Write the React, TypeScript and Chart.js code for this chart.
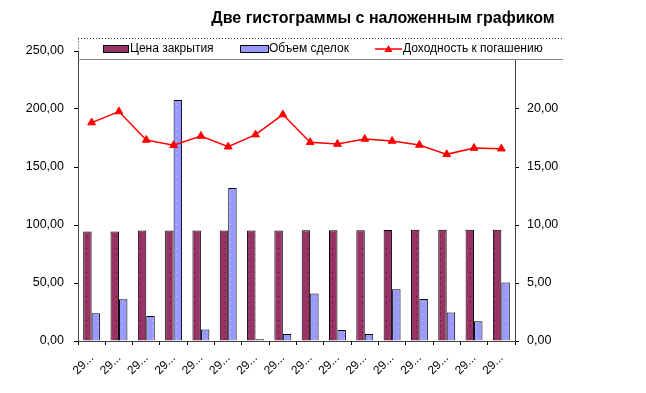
import React, { useEffect, useRef } from "react";
import { Chart, registerables } from "chart.js";

Chart.register(...registerables);

const categories = ["29...", "29...", "29...", "29...", "29...", "29...", "29...", "29...", "29...", "29...", "29...", "29...", "29...", "29...", "29...", "29..."];
const closePrice = [94.5, 94.5, 95.3, 95.3, 95.3, 95.3, 95.3, 95.3, 95.5, 95.5, 95.5, 95.7, 96, 96, 96, 96];
const volume = [24, 36, 21.6, 207.7, 10, 132, 1.5, 6, 41, 9.5, 6, 44.7, 36.3, 24.5, 17, 50.4];
const yieldToMaturity = [18.83, 19.78, 17.33, 16.87, 17.67, 16.75, 17.79, 19.52, 17.13, 16.98, 17.41, 17.24, 16.9, 16.09, 16.63, 16.58];
const leftTicks = [0, 50, 100, 150, 200, 250];
const rightTicks = [0, 5, 10, 15, 20];

const TITLE = "Две гистограммы с наложенным графиком";
const LEGEND = ["Цена закрытия", "Объем сделок", "Доходность к погашению"];
const FONT = "'Liberation Sans', Arial, sans-serif";

function makePattern(bg: string, dot: string) {
  const c = document.createElement("canvas");
  c.width = 6;
  c.height = 6;
  const g = c.getContext("2d")!;
  g.fillStyle = bg;
  g.fillRect(0, 0, 6, 6);
  g.fillStyle = dot;
  g.fillRect(2, 2, 1, 1);
  return g.createPattern(c, "repeat")!;
}

const overlayPlugin = {
  id: "overlay",
  afterDraw(chart: any) {
    const ctx = chart.ctx as CanvasRenderingContext2D;
    const area = chart.chartArea;
    ctx.save();
    // title
    ctx.fillStyle = "#000";
    ctx.font = `bold 16px ${FONT}`;
    ctx.textAlign = "center";
    ctx.textBaseline = "middle";
    ctx.fillText(TITLE, 383, 19);

    // legend box
    const lx = area.left;
    const ly = 38.5;
    const lr = 563;
    const lb = 59.5;
    ctx.fillStyle = "#fff";
    ctx.fillRect(lx + 1, ly, lr - lx - 1, lb - ly);
    ctx.strokeStyle = "#333";
    ctx.lineWidth = 1;
    ctx.setLineDash([1, 2]);
    ctx.beginPath();
    ctx.moveTo(lx, ly);
    ctx.lineTo(lr, ly);
    ctx.stroke();
    ctx.beginPath();
    ctx.moveTo(Math.round(lx) + 0.5, ly);
    ctx.lineTo(Math.round(lx) + 0.5, area.top);
    ctx.stroke();
    ctx.setLineDash([]);
    ctx.strokeStyle = "#888";
    ctx.beginPath();
    ctx.moveTo(lx, lb);
    ctx.lineTo(lr, lb);
    ctx.stroke();

    const cy = 49;
    ctx.font = `12px ${FONT}`;
    ctx.textAlign = "left";
    ctx.textBaseline = "middle";
    // item 1
    ctx.fillStyle = "#993366";
    ctx.fillRect(103, cy - 3, 25, 6);
    ctx.strokeStyle = "#000";
    ctx.strokeRect(103.5, cy - 3.5, 25, 7);
    ctx.fillStyle = "#000";
    ctx.fillText(LEGEND[0], 130, cy);
    // item 2
    ctx.fillStyle = "#9999FF";
    ctx.fillRect(240, cy - 3, 28, 6);
    ctx.strokeStyle = "#000";
    ctx.strokeRect(240.5, cy - 3.5, 28, 7);
    ctx.fillStyle = "#000";
    ctx.fillText(LEGEND[1], 269, cy);
    // item 3
    ctx.strokeStyle = "#FF0000";
    ctx.lineWidth = 1.5;
    ctx.beginPath();
    ctx.moveTo(375, cy);
    ctx.lineTo(402, cy);
    ctx.stroke();
    ctx.fillStyle = "#FF0000";
    ctx.beginPath();
    ctx.moveTo(388.5, cy - 4);
    ctx.lineTo(392.5, cy + 3);
    ctx.lineTo(384.5, cy + 3);
    ctx.closePath();
    ctx.fill();
    ctx.fillStyle = "#000";
    ctx.fillText(LEGEND[2], 403, cy);
    ctx.restore();
  },
};

export default function App() {
  const ref = useRef<HTMLCanvasElement | null>(null);

  useEffect(() => {
    document.body.style.margin = "0";
    const canvas = ref.current!;
    const maroon = makePattern("#993366", "#4a1433");
    const blue = makePattern("#9999FF", "#c8c8ff");
    const tickFont = { family: FONT, size: 12.5 };
    const chart = new Chart(canvas, {
      type: "bar",
      data: {
        labels: categories,
        datasets: [
          {
            type: "bar",
            label: LEGEND[0],
            data: closePrice,
            yAxisID: "y",
            backgroundColor: maroon,
            borderColor: "#000",
            borderWidth: 1,
            categoryPercentage: 0.62,
            barPercentage: 1,
            order: 2,
          },
          {
            type: "bar",
            label: LEGEND[1],
            data: volume,
            yAxisID: "y",
            backgroundColor: blue,
            borderColor: "#000",
            borderWidth: 1,
            categoryPercentage: 0.62,
            barPercentage: 1,
            order: 2,
          },
          {
            type: "line",
            label: LEGEND[2],
            data: yieldToMaturity,
            yAxisID: "y1",
            borderColor: "#FF0000",
            backgroundColor: "#FF0000",
            borderWidth: 1.5,
            pointStyle: "triangle",
            pointRadius: 4.5,
            pointBorderWidth: 1,
            tension: 0,
            order: 1,
          },
        ] as any,
      },
      options: {
        responsive: false,
        animation: false,
        layout: { padding: { top: 51, left: 0, right: 0, bottom: 0 } },
        plugins: { legend: { display: false }, title: { display: false }, tooltip: { enabled: false } },
        scales: {
          x: {
            offset: true,
            grid: { display: true, offset: true, drawOnChartArea: false, tickLength: 4, color: "#000" },
            border: { display: true, color: "#444", dash: [2, 1] },
            ticks: { color: "#000", font: { family: FONT, size: 12 }, minRotation: 45, maxRotation: 45, autoSkip: false, padding: 6 },
            afterFit(scale: any) {
              scale.height = 52;
            },
          },
          y: {
            position: "left",
            min: 0,
            max: 250,
            afterBuildTicks(scale: any) {
              scale.ticks = leftTicks.map((v) => ({ value: v }));
            },
            grid: { display: true, drawOnChartArea: false, tickLength: 4, color: "#000" },
            border: { display: true, color: "#444", dash: [2, 1] },
            ticks: {
              color: "#000",
              font: tickFont,
              padding: 10,
              callback: (v: any) => Number(v).toFixed(2).replace(".", ","),
            },
            afterFit(scale: any) {
              scale.width = 78;
            },
          },
          y1: {
            position: "right",
            min: 0,
            max: 25,
            afterBuildTicks(scale: any) {
              scale.ticks = rightTicks.map((v) => ({ value: v }));
            },
            grid: { display: true, drawOnChartArea: false, tickLength: 4, color: "#000" },
            border: { display: true, color: "#444", dash: [2, 1] },
            ticks: {
              color: "#000",
              font: tickFont,
              padding: 8,
              callback: (v: any) => Number(v).toFixed(2).replace(".", ","),
            },
            afterFit(scale: any) {
              scale.width = 131;
            },
          },
        },
      } as any,
      plugins: [overlayPlugin],
    });
    return () => chart.destroy();
  }, []);

  return (
    <div style={{ position: "absolute", left: 0, top: 0, width: 646, height: 393, background: "#fff" }}>
      <canvas ref={ref} width={646} height={393} style={{ width: 646, height: 393, display: "block" }} />
    </div>
  );
}
